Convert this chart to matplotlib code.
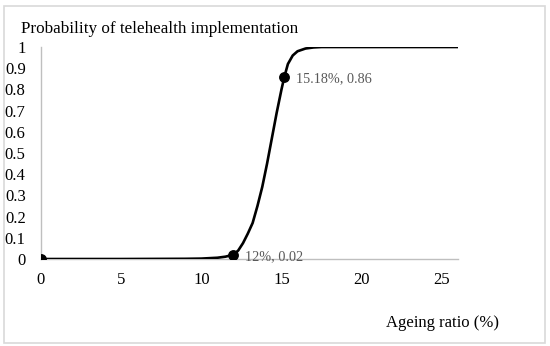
"""
Probability of telehealth implementation vs ageing ratio.
"""
import matplotlib.pyplot as plt
from matplotlib.patches import Rectangle

plt.rcParams['font.family'] = ['Liberation Serif', 'DejaVu Serif']

# curve
ageing = [0, 5, 9, 10, 10.5, 11, 11.5, 12, 12.3, 12.6, 12.9, 13.2, 13.5,
          13.8, 14.1, 14.4, 14.7, 15.0, 15.18, 15.4, 15.7, 16.0, 16.5,
          17.0, 17.5, 26]
prob = [0, 0, 0.001, 0.002, 0.004, 0.006, 0.011, 0.02, 0.04, 0.075, 0.12,
        0.17, 0.25, 0.34, 0.45, 0.57, 0.69, 0.80, 0.86, 0.92, 0.96, 0.98,
        0.993, 0.998, 1.0, 1.0]

# marked points
mark_x = [0, 12, 15.18]
mark_y = [0, 0.02, 0.86]
mark_text = [None, '12%, 0.02', '15.18%, 0.86']

x_ticks = [0, 5, 10, 15, 20, 25]
y_ticks = [0, 0.1, 0.2, 0.3, 0.4, 0.5, 0.6, 0.7, 0.8, 0.9, 1]
y_labels = ['0', '0.1', '0.2', '0.3', '0.4', '0.5', '0.6', '0.7', '0.8',
            '0.9', '1']

fig = plt.figure(figsize=(5.5, 3.46), dpi=100)
ax = fig.add_axes([0.0745, 0.2514, 0.758, 0.6127])

ax.plot(ageing, prob, color='black', lw=1.9, solid_capstyle='round')
ax.plot(mark_x, mark_y, 'o', color='black', ms=6.8, zorder=5)
for x, y, t in zip(mark_x, mark_y, mark_text):
    if t:
        ax.annotate(t, (x, y), xytext=(8.5, -1.5), textcoords='offset points',
                    ha='left', va='center', fontsize=10.3, color='#595959')

ax.set_xlim(0, 26)
ax.set_ylim(0, 1)
ax.set_xticks(x_ticks)
ax.set_yticks(y_ticks)
ax.set_yticklabels(y_labels)
ax.tick_params(length=0, labelsize=12, colors='black')
ax.tick_params(axis='x', pad=9)
ax.tick_params(axis='y', pad=11)
for s in ['top', 'right']:
    ax.spines[s].set_visible(False)
for s in ['left', 'bottom']:
    ax.spines[s].set_color('#bfbfbf')
    ax.spines[s].set_linewidth(1.0)
ax.spines['bottom'].set_zorder(0)

fig.text(0.038, 0.905, 'Probability of telehealth implementation',
         fontsize=12.3, va='baseline', ha='left')
fig.text(0.702, 0.055, 'Ageing ratio (%)', fontsize=12,
         va='baseline', ha='left')

fig.patches.append(Rectangle((0.008, 0.009), 0.983, 0.974,
                             transform=fig.transFigure, fill=False,
                             edgecolor='#d9d9d9', lw=1.2))

fig.savefig('out.png', dpi=100)
